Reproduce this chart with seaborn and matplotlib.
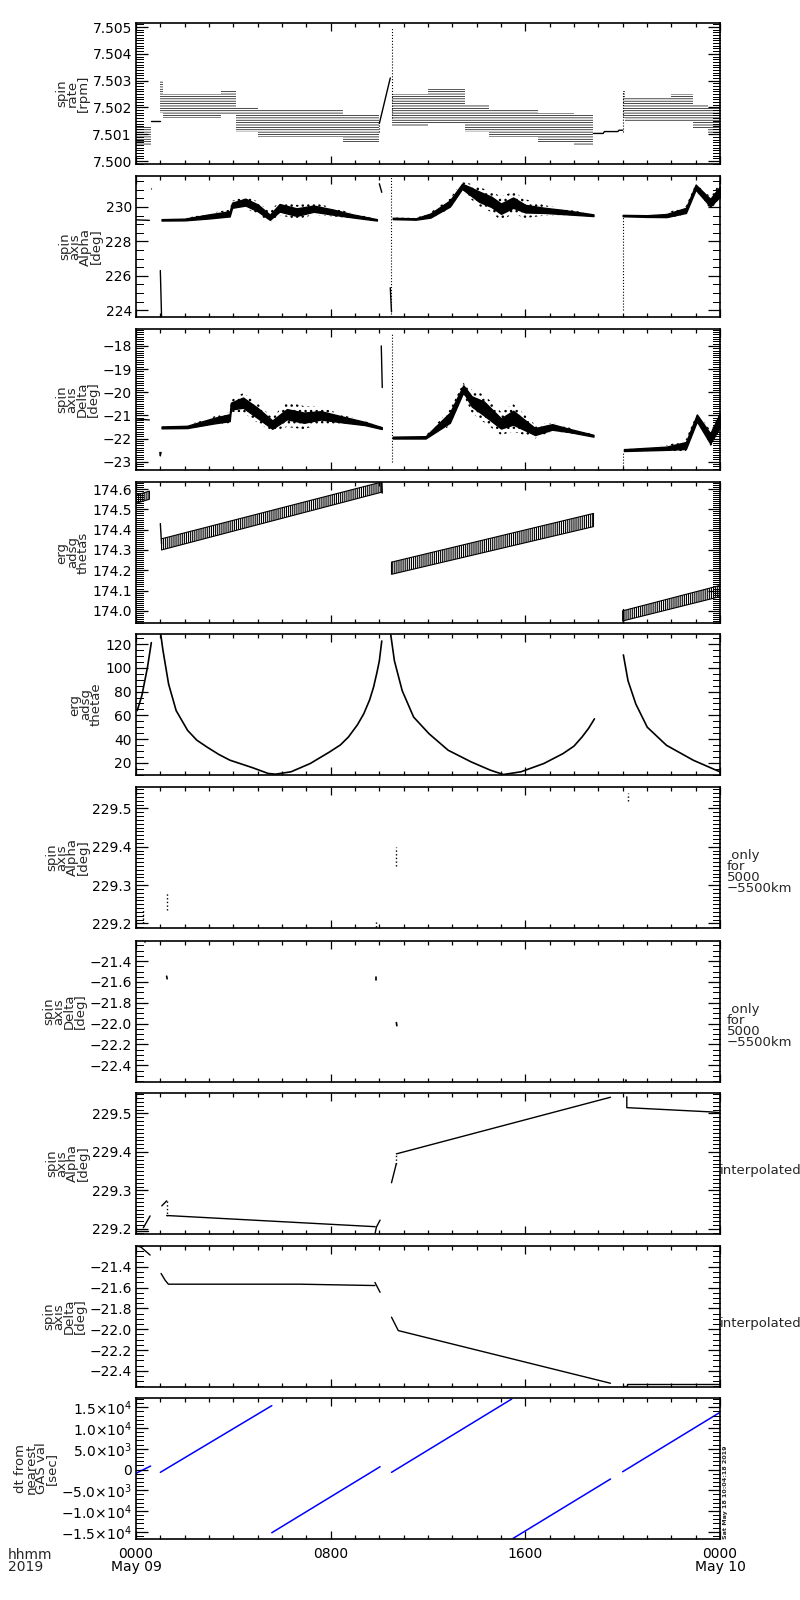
import numpy as np
import matplotlib
matplotlib.use('Agg')
import matplotlib.pyplot as plt
import seaborn as sns
from matplotlib.ticker import FixedLocator, FixedFormatter

sns.set_style('ticks')
plt.rcParams['font.family'] = ['DejaVu Sans']
plt.rcParams['hatch.linewidth'] = 0.5

# ---------------------------------------------------------------- data (hours of May 09)
# spin rate: quantised bands as step envelopes
spin_band_t = [[0.0, 0.6],
               [1.0, 1.1, 3.5, 4.1, 5.0, 8.5, 10.0],
               [10.5, 10.8, 12.0, 13.5, 14.5, 16.5, 18.0, 18.8],
               [20.0, 20.1, 22.0, 22.9, 23.5, 24.0]]
spin_band_lo = [[7.5006, 7.5006],
                [7.5018, 7.5016, 7.5017, 7.5011, 7.5009, 7.5007, 7.5007],
                [7.5013, 7.5013, 7.5014, 7.5011, 7.5009, 7.5007, 7.5006, 7.5006],
                [7.5016, 7.5015, 7.5015, 7.5012, 7.5010, 7.5010]]
spin_band_hi = [[7.5013, 7.5013],
                [7.5030, 7.5025, 7.5026, 7.5020, 7.5019, 7.5017, 7.5017],
                [7.5025, 7.5025, 7.5027, 7.5021, 7.5019, 7.5018, 7.5017, 7.5017],
                [7.5026, 7.5024, 7.5025, 7.5021, 7.5020, 7.5020]]
spin_line_t = [[0.6, 1.0], [10.0, 10.45], [18.8, 19.2, 19.25, 19.8, 19.85, 20.0]]
spin_line_v = [[7.5015, 7.5015], [7.5014, 7.5031],
               [7.50103, 7.50103, 7.5011, 7.5011, 7.50115, 7.50115]]
spin_dot_t = [[10.5, 10.5], [9.98, 9.98], [20.0, 20.0]]
spin_dot_v = [[7.5016, 7.5050], [7.5011, 7.5014], [7.5011, 7.5026]]

# spin axis alpha (noisy): centre, dense core and scatter half widths
alpha_band_t = [[1.05, 2.0, 3.0, 3.85, 3.95, 4.5, 5.0, 5.5, 5.9, 6.6, 7.3, 8.1, 8.9, 9.9],
                [10.55, 11.5, 12.1, 12.9, 13.4, 13.7, 14.1, 14.6, 15.0, 15.5, 16.0, 16.8, 17.6, 18.8],
                [20.0, 21.0, 21.8, 22.6, 23.0, 23.6, 24.0]]
alpha_band_c = [[229.25, 229.27, 229.45, 229.6, 230.1, 230.28, 229.95, 229.4, 229.95, 229.7, 229.9, 229.7, 229.48, 229.25],
                [229.33, 229.3, 229.5, 230.2, 231.2, 230.95, 230.6, 230.3, 229.9, 230.25, 229.9, 229.8, 229.7, 229.52],
                [229.5, 229.47, 229.5, 229.8, 231.15, 230.25, 230.9]]
alpha_band_core = [[0.04, 0.05, 0.12, 0.15, 0.15, 0.2, 0.2, 0.15, 0.22, 0.22, 0.18, 0.15, 0.09, 0.04],
                   [0.04, 0.04, 0.12, 0.18, 0.15, 0.22, 0.3, 0.3, 0.3, 0.3, 0.22, 0.15, 0.12, 0.05],
                   [0.04, 0.05, 0.09, 0.15, 0.15, 0.22, 0.3]]
alpha_band_spread = [[0.06, 0.07, 0.18, 0.25, 0.25, 0.36, 0.36, 0.3, 0.42, 0.42, 0.36, 0.25, 0.15, 0.06],
                     [0.06, 0.06, 0.18, 0.3, 0.25, 0.42, 0.55, 0.6, 0.7, 0.65, 0.55, 0.3, 0.18, 0.07],
                     [0.06, 0.06, 0.15, 0.25, 0.2, 0.36, 0.5]]
alpha_line_t = [[0.0, 0.55], [1.0, 1.05], [10.0, 10.1], [10.45, 10.5]]
alpha_line_v = [[229.25, 229.22], [226.3, 223.6], [231.35, 230.85], [225.3, 223.9]]
alpha_dot_t = [[0.6, 0.6], [10.47, 10.47], [20.0, 20.0]]
alpha_dot_v = [[231.05, 231.15], [223.6, 231.8], [224.0, 229.5]]

# spin axis delta (noisy)
delta_band_t = [[1.05, 2.1, 3.2, 3.85, 3.9, 4.4, 5.0, 5.6, 6.2, 6.9, 7.6, 8.6, 9.4, 10.1],
                [10.55, 11.9, 12.9, 13.45, 13.8, 14.3, 15.0, 15.5, 16.4, 17.1, 17.8, 18.8],
                [20.05, 21.8, 22.6, 23.05, 23.6, 24.0]]
delta_band_c = [[-21.52, -21.5, -21.23, -21.1, -20.6, -20.45, -20.9, -21.4, -20.95, -21.1, -21.0, -21.2, -21.35, -21.55],
                [-21.96, -21.95, -21.1, -19.85, -20.4, -20.7, -21.35, -21.1, -21.7, -21.5, -21.65, -21.88],
                [-22.5, -22.42, -22.3, -21.11, -22.0, -21.2]]
delta_band_core = [[0.04, 0.05, 0.12, 0.15, 0.15, 0.22, 0.22, 0.18, 0.22, 0.22, 0.18, 0.12, 0.07, 0.04],
                   [0.04, 0.05, 0.22, 0.15, 0.22, 0.3, 0.22, 0.3, 0.15, 0.12, 0.07, 0.04],
                   [0.04, 0.07, 0.15, 0.15, 0.22, 0.3]]
delta_band_spread = [[0.06, 0.07, 0.18, 0.25, 0.25, 0.42, 0.42, 0.3, 0.55, 0.5, 0.36, 0.18, 0.1, 0.06],
                     [0.06, 0.07, 0.36, 0.25, 0.5, 0.6, 0.5, 0.6, 0.3, 0.18, 0.12, 0.06],
                     [0.06, 0.12, 0.25, 0.25, 0.36, 0.6]]
delta_line_t = [[0.0, 0.55], [0.98, 1.0, 1.03], [10.08, 10.12]]
delta_line_v = [[-21.15, -21.2], [-22.6, -22.75, -22.6], [-18.0, -19.8]]
delta_dot_t = [[10.5, 10.5], [20.0, 20.0]]
delta_dot_v = [[-23.0, -17.5], [-23.3, -22.6]]

# erg adsg thetas (ripple band)
thetas_t = [[0.0, 0.55], [1.05, 10.1], [10.5, 18.8], [20.0, 24.0]]
thetas_lo = [[174.53, 174.55], [174.30, 174.585], [174.18, 174.415], [173.95, 174.07]]
thetas_hi = [[174.57, 174.59], [174.355, 174.635], [174.24, 174.48], [174.0, 174.125]]
thetas_line_t = [[1.0, 1.05], [10.1, 10.12], [20.0, 20.0]]
thetas_line_v = [[174.43, 174.33], [174.63, 174.58], [174.01, 173.94]]

# erg adsg thetae
thetae_t = [[0.05, 0.24, 0.47, 0.63],
            [1.02, 1.1, 1.18, 1.34, 1.65, 2.12, 2.5, 2.91, 3.4, 3.86, 4.8, 5.43, 5.74, 6.37, 7.16,
             7.95, 8.4, 8.73, 9.1, 9.36, 9.6, 9.76, 9.9, 10.0, 10.1],
            [10.47, 10.62, 10.94, 11.41, 12.04, 12.83, 13.77, 14.56, 15.1, 15.82, 16.76, 17.55,
             18.0, 18.33, 18.6, 18.84],
            [20.03, 20.22, 20.54, 21.01, 21.8, 22.9, 23.68, 24.0]]
thetae_v = [[64, 76.6, 100.4, 121.4],
            [128, 116, 106, 86.4, 64, 47.3, 39, 33.3, 27, 22.1, 15.7, 10.9, 10.3, 12.3, 19.3,
             29, 35, 41.7, 52, 61.3, 73, 83.6, 96, 106, 122.8],
            [128, 106, 80.8, 58.5, 44.5, 30.5, 20.7, 13.7, 10.0, 12.3, 19.3, 27.7, 34, 41.7, 49, 57],
            [111, 89.2, 69.6, 50, 34.7, 22.1, 15.1, 12.3]]

# spin axis alpha / delta only for 5000-5500 km
aonly_t = [[0.3, 0.3], [1.26, 1.26], [9.85, 9.85], [10.7, 10.7], [20.2, 20.2]]
aonly_v = [[229.2, 229.235], [229.235, 229.28], [229.19, 229.21], [229.35, 229.40], [229.52, 229.54]]
donly_t = [[0.37, 0.37], [1.26, 1.28], [9.85, 9.85], [10.7, 10.72], [20.15, 20.15]]
donly_v = [[-21.2, -21.22], [-21.545, -21.57], [-21.55, -21.58], [-21.99, -22.02], [-22.54, -22.56]]

# interpolated alpha / delta
ainterp_t = [[0.04, 0.5], [0.3, 0.58], [1.06, 1.26], [1.26, 9.83], [9.83, 9.88, 10.03],
             [10.5, 10.7], [10.7, 19.5], [20.17, 20.17, 23.6, 24.0]]
ainterp_v = [[229.195, 229.195], [229.203, 229.234], [229.26, 229.273], [229.235, 229.206],
             [229.19, 229.205, 229.223], [229.32, 229.37], [229.395, 229.542],
             [229.543, 229.515, 229.504, 229.502]]
ainterp_dot_t = [[1.26, 1.26], [10.7, 10.7]]
ainterp_dot_v = [[229.273, 229.235], [229.37, 229.395]]
dinterp_t = [[0.03, 0.2, 0.58], [1.03, 1.2, 1.33, 6.74, 9.82], [9.82, 10.03],
             [10.5, 10.78, 19.5], [20.0, 20.17, 20.17, 24.0]]
dinterp_v = [[-21.2, -21.21, -21.287], [-21.464, -21.53, -21.567, -21.567, -21.58], [-21.55, -21.645],
             [-21.884, -22.013, -22.519], [-22.545, -22.545, -22.53, -22.53]]

# dt from nearest GAS val [sec]
dt_t = [[0.0, 0.6], [1.0, 5.58], [5.58, 10.03], [10.5, 15.44], [15.5, 19.5], [20.0, 24.0]]
dt_v = [[-919, 840], [-680, 15400], [-15250, 670], [-680, 17000], [-16600, -2290], [-533, 13794]]

# axis labels and ticks
ylabels = ['spin\nrate\n[rpm]', 'spin\naxis\nAlpha\n[deg]', 'spin\naxis\nDelta\n[deg]',
           'erg\nadsg\nthetas', 'erg\nadsg\nthetae', 'spin\naxis\nAlpha\n[deg]',
           'spin\naxis\nDelta\n[deg]', 'spin\naxis\nAlpha\n[deg]', 'spin\naxis\nDelta\n[deg]',
           'dt from\nnearest\nGAS val\n[sec]']
yticks = [[7.500, 7.501, 7.502, 7.503, 7.504, 7.505],
          [224, 226, 228, 230],
          [-23, -22, -21, -20, -19, -18],
          [174.0, 174.1, 174.2, 174.3, 174.4, 174.5, 174.6],
          [20, 40, 60, 80, 100, 120],
          [229.2, 229.3, 229.4, 229.5],
          [-22.4, -22.2, -22.0, -21.8, -21.6, -21.4],
          [229.2, 229.3, 229.4, 229.5],
          [-22.4, -22.2, -22.0, -21.8, -21.6, -21.4],
          [-15000, -10000, -5000, 0, 5000, 10000, 15000]]
yticklabels = [['7.500', '7.501', '7.502', '7.503', '7.504', '7.505'],
               ['224', '226', '228', '230'],
               ['\u221223', '\u221222', '\u221221', '\u221220', '\u221219', '\u221218'],
               ['174.0', '174.1', '174.2', '174.3', '174.4', '174.5', '174.6'],
               ['20', '40', '60', '80', '100', '120'],
               ['229.2', '229.3', '229.4', '229.5'],
               ['\u221222.4', '\u221222.2', '\u221222.0', '\u221221.8', '\u221221.6', '\u221221.4'],
               ['229.2', '229.3', '229.4', '229.5'],
               ['\u221222.4', '\u221222.2', '\u221222.0', '\u221221.8', '\u221221.6', '\u221221.4'],
               ['\u22121.5\u00d710$^{4}$', '\u22121.0\u00d710$^{4}$', '\u22125.0\u00d710$^{3}$', '0',
                '5.0\u00d710$^{3}$', '1.0\u00d710$^{4}$', '1.5\u00d710$^{4}$']]
yminor_step = [0.0001, 0.5, 0.1, 0.01, 5, 0.01, 0.05, 0.01, 0.05, 1000]
ylims = [(7.49989, 7.50515), (223.6, 231.8), (-23.36, -17.27), (173.94, 174.635), (9.6, 128.7),
         (229.188, 229.556), (-22.56, -21.207), (229.187, 229.553), (-22.555, -21.2), (-16760, 17250)]
xticks = [0, 8, 16, 24]
xticklabels = ['0000\nMay 09', '0800', '1600', '0000\nMay 10']
side_notes = {5: ' only\nfor\n5000\n\u22125500km', 6: ' only\nfor\n5000\n\u22125500km',
              7: 'interpolated', 8: 'interpolated'}
stamp = 'Sat May 18 10:04:18 2019'


def line(ax, t, v, **kw):
    kw.setdefault('color', 'k')
    kw.setdefault('linewidth', 1.0)
    sns.lineplot(x=t, y=v, ax=ax, estimator=None, sort=False, legend=False, **kw)


def noisy_band(ax, t, c, core, spread):
    t, c = np.asarray(t), np.asarray(c)
    core, spread = np.asarray(core), np.asarray(spread)
    with plt.rc_context({'hatch.linewidth': 1.0}):
        ax.fill_between(t, c - spread, c + spread, facecolor='none', edgecolor='k',
                        hatch='...', linewidth=0)
    ax.fill_between(t, c - core, c + core, color='k', linewidth=1.0)


def tick_comb(ax, locs, x0, length):
    # IDL style inward minor tick marks, one pixel wide
    for y in locs:
        ax.plot([x0, x0 + length], [y, y], color='k', linewidth=0.72, antialiased=False,
                transform=ax.get_yaxis_transform(), clip_on=False, solid_capstyle='butt')


# ---------------------------------------------------------------- figure
W, H = 800, 1600
fig = plt.figure(figsize=(W / 100, H / 100), dpi=100)
tops = [23, 176, 329, 482, 634, 787, 941, 1093, 1246, 1398]
ph = 141
axes = [fig.add_axes([136 / W, 1 - (t + ph) / H, 584 / W, ph / H]) for t in tops]

# spin rate
ax = axes[0]
for t, lo, hi in zip(spin_band_t, spin_band_lo, spin_band_hi):
    ax.fill_between(t, lo, hi, step='post', facecolor='none', edgecolor='k',
                    hatch='-------', linewidth=0)
for t, v in zip(spin_line_t, spin_line_v):
    line(ax, t, v)
for t, v in zip(spin_dot_t, spin_dot_v):
    line(ax, t, v, linestyle=':', linewidth=0.8)

# alpha / delta
for ax, bt, bc, bcore, bsp, lt, lv, dtt, dv in [
        (axes[1], alpha_band_t, alpha_band_c, alpha_band_core, alpha_band_spread,
         alpha_line_t, alpha_line_v, alpha_dot_t, alpha_dot_v),
        (axes[2], delta_band_t, delta_band_c, delta_band_core, delta_band_spread,
         delta_line_t, delta_line_v, delta_dot_t, delta_dot_v)]:
    for t, c, co, sp in zip(bt, bc, bcore, bsp):
        noisy_band(ax, t, c, co, sp)
    for t, v in zip(lt, lv):
        line(ax, t, v)
    for t, v in zip(dtt, dv):
        line(ax, t, v, linestyle=':', linewidth=0.8)

# thetas
ax = axes[3]
with plt.rc_context({'hatch.linewidth': 0.8}):
    for t, lo, hi in zip(thetas_t, thetas_lo, thetas_hi):
        ax.fill_between(t, lo, hi, facecolor='none', edgecolor='k', hatch='||||||||', linewidth=0.8)
for t, v in zip(thetas_line_t, thetas_line_v):
    line(ax, t, v)

# thetae
for t, v in zip(thetae_t, thetae_v):
    line(axes[4], t, v, linewidth=1.2)

# only for 5000-5500 km
for t, v in zip(aonly_t, aonly_v):
    line(axes[5], t, v, linestyle=':', linewidth=1.0)
for t, v in zip(donly_t, donly_v):
    line(axes[6], t, v, linewidth=1.2)

# interpolated
for t, v in zip(ainterp_t, ainterp_v):
    line(axes[7], t, v)
for t, v in zip(ainterp_dot_t, ainterp_dot_v):
    line(axes[7], t, v, linestyle=':')
for t, v in zip(dinterp_t, dinterp_v):
    line(axes[8], t, v)

# dt
for t, v in zip(dt_t, dt_v):
    line(axes[9], t, v, color='#0000ff', linewidth=1.1)

for i, ax in enumerate(axes):
    lo, hi = ylims[i]
    ax.set_xlim(0, 24)
    ax.set_ylim(lo, hi)
    ax.xaxis.set_major_locator(FixedLocator(xticks))
    ax.xaxis.set_minor_locator(FixedLocator(list(range(25))))
    ax.yaxis.set_major_locator(FixedLocator(yticks[i]))
    ax.yaxis.set_major_formatter(FixedFormatter(yticklabels[i]))
    ax.yaxis.set_minor_locator(FixedLocator([]))
    step = yminor_step[i]
    minor = np.arange(np.ceil(lo / step), np.floor(hi / step) + 1) * step
    tick_comb(ax, minor, 0.0, 0.012)
    tick_comb(ax, minor, 1.0, -0.012)
    ax.tick_params(which='both', direction='in', top=True, right=True, bottom=True, left=True,
                   labelbottom=False, colors='k', width=0.9, labelsize=10)
    ax.tick_params(axis='y', which='major', length=8.6, pad=3)
    ax.tick_params(axis='x', which='major', length=5.8)
    ax.tick_params(axis='x', which='minor', length=2.9)
    for s in ax.spines.values():
        s.set_linewidth(1.2)
        s.set_color('k')
    ax.set_xlabel('')
    ax.set_ylabel(ylabels[i], fontsize=9.5, linespacing=0.75, labelpad=2)
    if i in side_notes:
        note = side_notes[i]
        if note == 'interpolated':
            ax.text(1.0, 0.45, note, transform=ax.transAxes, ha='left', va='center', fontsize=9.5)
        else:
            ax.text(1.012, 0.4, note, transform=ax.transAxes, ha='left', va='center',
                    fontsize=9.5, linespacing=0.8)

axes[9].xaxis.set_major_formatter(FixedFormatter(xticklabels))
axes[9].tick_params(axis='x', labelbottom=True, pad=6, labelsize=10)
for lab in axes[9].get_xticklabels():
    lab.set_linespacing(0.85)
axes[9].text(1.005, 0.0, stamp, transform=axes[9].transAxes, rotation=90,
             ha='left', va='bottom', fontsize=4.6, fontweight='bold')
fig.text(8 / W, 1 - 1548 / H, 'hhmm\n2019', ha='left', va='top', fontsize=10, linespacing=0.85)

fig.savefig('out.png', dpi=100, facecolor='white')
